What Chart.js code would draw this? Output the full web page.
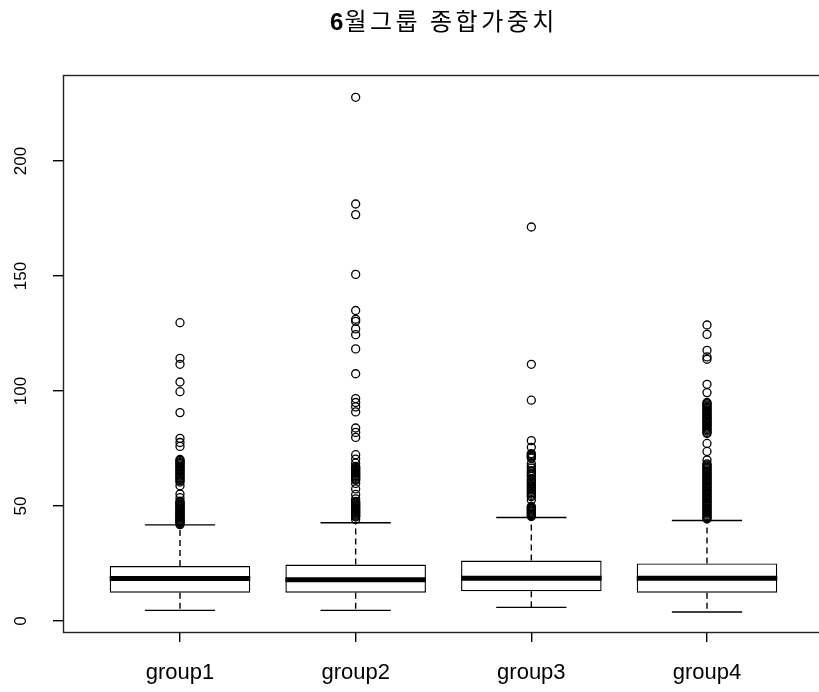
<!DOCTYPE html>
<html>
<head>
<meta charset="utf-8">
<title>6월그룹 종합가중치</title>
<script src="https://cdn.jsdelivr.net/npm/chart.js@4.4.1/dist/chart.umd.min.js"></script>
<style>
  html, body { margin: 0; padding: 0; background: #fff; overflow: hidden; }
  #wrap { width: 887px; height: 692px; }
</style>
</head>
<body>
<div id="wrap"><canvas id="chart" width="887" height="692"></canvas></div>
<script>
const chartTitle = '6월그룹 종합가중치';
const groups = ['group1', 'group2', 'group3', 'group4'];

// five-number summaries
const lowerWhisker = [4.6, 4.6, 5.9, 3.9];
const q1 = [12.3, 12.3, 12.9, 12.3];
const medians = [18.5, 17.9, 18.6, 18.6];
const q3 = [23.9, 24.5, 26.3, 25.0];
const upperWhisker = [41.8, 42.7, 45.0, 43.7];

// outliers, one list per group
const outliers1 = [129.7, 114.2, 111.6, 103.9, 99.7, 90.6, 79.4, 77.6, 75.9,
  70.2, 69.8, 69.3, 68.8, 68.4, 67.9, 67.3, 66.8, 66.2, 65.7, 65.3, 64.8, 64.2, 63.7,
  63.1, 62.6, 62.1, 61.5, 61.0, 60.4, 58.8, 55.2, 53.6,
  52.1, 51.7, 51.2, 50.8, 50.4, 49.9, 49.5, 49.1, 48.7, 48.3, 47.9, 47.5, 47.1, 46.7,
  46.3, 45.9, 45.5, 45.1, 44.7, 44.3, 43.9, 43.5, 43.1, 42.7, 42.3, 41.9];
const outliers2 = [227.7, 181.3, 176.7, 150.7, 135.0, 131.2, 130.3, 127.0, 124.5, 118.3,
  107.5, 96.7, 95.0, 93.1, 90.9, 83.9, 82.0, 79.8, 72.3, 70.4, 68.6,
  67.2, 66.8, 66.3, 65.9, 65.5, 65.0, 64.6, 64.2, 63.8, 63.3, 62.9, 62.5, 62.0, 61.6, 61.2,
  59.8, 57.4, 55.0, 53.1,
  52.0, 51.6, 51.2, 50.8, 50.4, 50.0, 49.6, 49.2, 48.8, 48.4, 48.0, 47.6, 47.2, 46.8,
  46.4, 46.0, 45.6, 45.2, 44.1];
const outliers3 = [171.3, 111.6, 96.0, 78.4, 75.5, 72.8, 72.4, 72.0, 71.6, 71.2, 70.8,
  68.4, 67.2, 66.5, 65.4, 64.8, 64.1, 63.5, 62.9, 61.8, 61.2, 60.6, 60.0, 59.4,
  58.8, 58.2, 57.6, 57.0, 56.4, 55.8, 55.2, 54.6, 54.0, 52.6,
  49.8, 49.4, 49.0, 48.6, 48.2, 47.8, 47.4, 47.0, 46.6, 46.2, 45.8, 45.4];
const outliers4 = [128.7, 124.6, 117.7, 114.8, 113.8, 102.9, 99.3,
  95.0, 94.5, 94.0, 93.4, 92.9, 92.4, 91.8, 91.3, 90.8, 90.2, 89.7, 89.2, 88.6, 88.1,
  87.6, 87.0, 86.5, 86.0, 85.4, 84.9, 84.3, 83.8, 83.2, 82.6, 82.0, 81.5, 77.2, 73.7, 70.0,
  68.3, 67.8, 67.3, 66.7, 66.2, 65.7, 65.1, 64.6, 64.1, 63.5, 63.0, 62.5, 61.9, 61.4,
  60.9, 60.3, 59.8, 59.3, 58.7, 58.2, 57.7, 57.1, 56.6, 56.1, 55.5, 55.0, 54.5, 53.9,
  53.4, 52.9, 52.3, 51.8, 51.3, 50.7, 50.2, 49.7, 49.1, 48.6, 48.1, 47.5, 47.0, 46.5,
  45.9, 45.4, 44.9, 44.4];
const outlierLists = [outliers1, outliers2, outliers3, outliers4];

const yTicks = [0, 50, 100, 150, 200];

// R style geometry (box width 0.8, staple half the box)
const BOX_HALF = 0.4;
const CAP_HALF = 0.2;
const LINE_W = 1.4;

const gap = x => ({ x: x, y: null });

const whiskerPts = [];
const capPts = [];
const medianPts = [];
groups.forEach((g, i) => {
  const x = i + 1;
  whiskerPts.push({ x, y: q3[i] }, { x, y: upperWhisker[i] }, gap(x),
                  { x, y: q1[i] }, { x, y: lowerWhisker[i] }, gap(x));
  capPts.push({ x: x - CAP_HALF, y: upperWhisker[i] }, { x: x + CAP_HALF, y: upperWhisker[i] }, gap(x),
              { x: x - CAP_HALF, y: lowerWhisker[i] }, { x: x + CAP_HALF, y: lowerWhisker[i] }, gap(x + CAP_HALF));
  medianPts.push({ x: x - BOX_HALF, y: medians[i] }, { x: x + BOX_HALF, y: medians[i] }, gap(x + BOX_HALF));
});

const outlierPts = [];
outlierLists.forEach((list, i) => list.forEach(v => outlierPts.push({ x: i + 1, y: v })));

// full frame around the plot region, like bty="o"
const framePlugin = {
  id: 'frame',
  afterDraw(chart) {
    const { ctx, chartArea: a } = chart;
    ctx.save();
    ctx.strokeStyle = '#222';
    ctx.lineWidth = LINE_W;
    ctx.strokeRect(Math.round(a.left) + 0.5, Math.round(a.top) + 0.5,
                   Math.round(a.right - a.left), Math.round(a.bottom - a.top));
    ctx.restore();
  }
};

// y labels turned 90 degrees (las = 0)
const yLabelPlugin = {
  id: 'yLabels',
  afterDraw(chart) {
    const { ctx } = chart;
    const ys = chart.scales.y;
    ctx.save();
    ctx.fillStyle = '#000';
    ctx.font = '17px "Liberation Sans", Arial, sans-serif';
    ctx.textAlign = 'center';
    ctx.textBaseline = 'alphabetic';
    yTicks.forEach(v => {
      ctx.save();
      ctx.translate(26, ys.getPixelForValue(v));
      ctx.rotate(-Math.PI / 2);
      ctx.fillText(String(v), 0, 0);
      ctx.restore();
    });
    ctx.restore();
  }
};

// main title: bold digit, Hangul in regular weight
const titlePlugin = {
  id: 'rTitle',
  afterDraw(chart) {
    const { ctx, chartArea: a } = chart;
    const head = chartTitle.slice(0, 1);
    const rest = chartTitle.slice(1);
    const kr = '24px "Noto Sans CJK KR", sans-serif';
    const bold = 'bold 24px "Liberation Sans", Arial, sans-serif';
    ctx.save();
    ctx.fillStyle = '#000';
    ctx.textBaseline = 'alphabetic';
    ctx.textAlign = 'left';
    ctx.font = bold;
    const w1 = ctx.measureText(head).width;
    ctx.font = kr;
    ctx.letterSpacing = '3.5px';
    const w2 = ctx.measureText(rest).width;
    const x = (a.left + a.right) / 2 - (w1 + w2) / 2;
    ctx.letterSpacing = '0px';
    ctx.font = bold;
    ctx.fillText(head, x, 30);
    ctx.font = kr;
    ctx.letterSpacing = '3.5px';
    ctx.fillText(rest, x + w1 + 1, 30);
    ctx.restore();
  }
};

Chart.defaults.font.family = '"Liberation Sans", Arial, sans-serif';
Chart.defaults.color = '#000';

new Chart(document.getElementById('chart'), {
  type: 'scatter',
  data: {
    datasets: [
      {
        type: 'line',
        label: 'median',
        data: medianPts,
        borderColor: '#000',
        borderWidth: 5,
        borderCapStyle: 'butt',
        pointRadius: 0,
        fill: false,
        spanGaps: false,
        order: 0
      },
      {
        type: 'bar',
        label: 'box',
        data: groups.map((g, i) => ({ x: i + 1, y: [q1[i], q3[i]] })),
        backgroundColor: '#fff',
        borderColor: '#000',
        borderWidth: LINE_W,
        borderSkipped: false,
        barPercentage: 1,
        categoryPercentage: 0.8,
        order: 1
      },
      {
        type: 'line',
        label: 'whisker',
        data: whiskerPts,
        borderColor: '#000',
        borderWidth: LINE_W,
        borderDash: [6, 4],
        pointRadius: 0,
        fill: false,
        spanGaps: false,
        order: 2
      },
      {
        type: 'line',
        label: 'staple',
        data: capPts,
        borderColor: '#000',
        borderWidth: LINE_W,
        pointRadius: 0,
        fill: false,
        spanGaps: false,
        order: 2
      },
      {
        type: 'scatter',
        label: 'outliers',
        data: outlierPts,
        pointStyle: 'circle',
        pointRadius: 4,
        borderColor: '#000',
        borderWidth: 1.3,
        backgroundColor: 'rgba(0,0,0,0)',
        order: 3
      }
    ]
  },
  options: {
    responsive: false,
    animation: false,
    devicePixelRatio: 1,
    layout: { padding: { top: 75, right: 63, left: 0, bottom: 0 } },
    plugins: {
      legend: { display: false },
      tooltip: { enabled: false },
      title: { display: false }
    },
    scales: {
      x: {
        type: 'linear',
        min: 0.334,
        max: 4.666,
        offset: false,
        grid: { display: true, offset: false, drawOnChartArea: false, drawTicks: true, tickLength: 10, lineWidth: LINE_W, color: '#000' },
        border: { display: false },
        afterBuildTicks(scale) { scale.ticks = groups.map((g, i) => ({ value: i + 1 })); },
        afterFit(scale) { scale.height = 60; },
        ticks: {
          padding: 18,
          font: { size: 22 },
          color: '#000',
          maxRotation: 0,
          autoSkip: false,
          callback: v => groups[v - 1]
        }
      },
      y: {
        type: 'linear',
        min: -4.8,
        max: 237.4,
        grid: { display: true, drawOnChartArea: false, drawTicks: true, tickLength: 10, lineWidth: LINE_W, color: '#000' },
        border: { display: false },
        afterBuildTicks(scale) { scale.ticks = yTicks.map(v => ({ value: v })); },
        afterFit(scale) { scale.width = 63; },
        ticks: { display: false }
      }
    }
  },
  plugins: [framePlugin, yLabelPlugin, titlePlugin]
});
</script>
</body>
</html>
